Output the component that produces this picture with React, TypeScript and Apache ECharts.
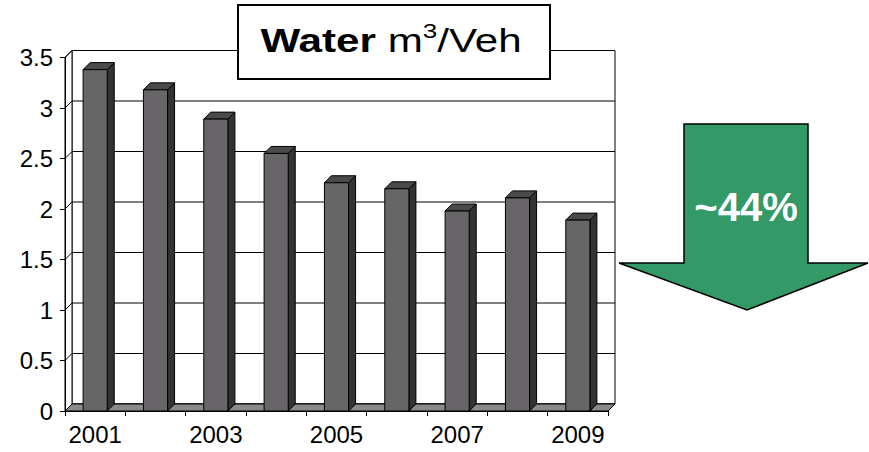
import React, { useEffect, useRef } from "react";
import * as echarts from "echarts";

const years = ["2001", "2002", "2003", "2004", "2005", "2006", "2007", "2008", "2009"];
const water = [3.38, 3.18, 2.89, 2.55, 2.26, 2.2, 1.98, 2.11, 1.89];
const yTicks = [0, 0.5, 1, 1.5, 2, 2.5, 3, 3.5];
const yMax = 3.5;
const titleBold = "Water";
const titleUnit = "m";
const titleSup = "3";
const titleRest = "/Veh";
const changeLabel = "~44%";

const DX = 7;
const DY = 7;
const FONT = "'Liberation Sans', Arial, sans-serif";

export default function App() {
  const ref = useRef<HTMLDivElement>(null);

  useEffect(() => {
    const chart = echarts.init(ref.current!, null, { renderer: "svg" });

    const renderFrame = (params: any, api: any) => {
      const children: any[] = [];
      const p0 = api.coord([0, 0]);
      const bw = api.size([1, 0])[0];
      const x0 = p0[0] - bw / 2;
      const x1 = x0 + bw * years.length;
      const yBot = p0[1];
      const yTop = api.coord([0, yMax])[1];
      children.push({
        type: "rect",
        shape: { x: x0 + DX, y: yTop - DY, width: x1 - x0, height: yBot - yTop },
        style: { fill: "#fff", stroke: "#000", lineWidth: 1 },
      });
      children.push({
        type: "polygon",
        shape: { points: [[x0, yBot], [x0, yTop], [x0 + DX, yTop - DY], [x0 + DX, yBot - DY]] },
        style: { fill: "#fff", stroke: "#000", lineWidth: 1 },
      });
      yTicks.forEach((v) => {
        const y = api.coord([0, v])[1];
        children.push({
          type: "line",
          shape: { x1: x0 + DX, y1: y - DY, x2: x1 + DX, y2: y - DY },
          style: { stroke: "#000", lineWidth: 1 },
        });
        children.push({
          type: "line",
          shape: { x1: x0, y1: y, x2: x0 + DX, y2: y - DY },
          style: { stroke: "#000", lineWidth: 1 },
        });
      });
      children.push({
        type: "polygon",
        shape: { points: [[x0, yBot], [x1, yBot], [x1 + DX, yBot - DY], [x0 + DX, yBot - DY]] },
        style: { fill: "#8a8a8a", stroke: "#000", lineWidth: 1 },
      });
      return { type: "group", children };
    };

    const renderBar = (params: any, api: any) => {
      const idx = api.value(0);
      const val = api.value(1);
      const c = api.coord([idx, val]);
      const b = api.coord([idx, 0]);
      const bw = api.size([1, 0])[0];
      const w = bw * 0.4;
      const l = c[0] - w / 2;
      const r = c[0] + w / 2;
      const st = { stroke: "#000", lineWidth: 1 };
      return {
        type: "group",
        children: [
          {
            type: "polygon",
            shape: { points: [[r, c[1]], [r + DX, c[1] - DY], [r + DX, b[1] - DY], [r, b[1]]] },
            style: { fill: "#333333", ...st },
          },
          {
            type: "polygon",
            shape: { points: [[l, c[1]], [r, c[1]], [r + DX, c[1] - DY], [l + DX, c[1] - DY]] },
            style: { fill: "#4a4a4a", ...st },
          },
          {
            type: "rect",
            shape: { x: l, y: c[1], width: w, height: b[1] - c[1] },
            style: { fill: "#676567", ...st },
          },
        ],
      };
    };

    const option: any = {
      animation: false,
      grid: { left: 65, right: 261, top: 57.5, bottom: 41 },
      xAxis: {
        type: "category",
        data: years,
        axisLine: { show: true, lineStyle: { color: "#000", width: 1 } },
        axisTick: { show: true, interval: 0, length: 5, lineStyle: { color: "#000" } },
        axisLabel: { interval: 1, color: "#000", fontSize: 24, fontFamily: FONT, margin: 11 },
        splitLine: { show: false },
        z: 5,
      },
      yAxis: {
        type: "value",
        min: 0,
        max: yMax,
        interval: 0.5,
        axisLine: { show: true, lineStyle: { color: "#000", width: 1 } },
        axisTick: { show: true, length: 5, lineStyle: { color: "#000" } },
        axisLabel: { color: "#000", fontSize: 24, fontFamily: FONT, margin: 12 },
        splitLine: { show: false },
        z: 5,
      },
      series: [
        { type: "custom", data: [[0, 0]], renderItem: renderFrame, z: 1, silent: true },
        {
          type: "custom",
          data: water.map((v, i) => [i, v]),
          renderItem: renderBar,
          z: 2,
        },
      ],
      graphic: [
        {
          type: "rect",
          z: 100,
          shape: { x: 238, y: 5, width: 312, height: 74 },
          style: { fill: "#fff", stroke: "#000", lineWidth: 2 },
        },
        {
          type: "text",
          z: 101,
          x: 391,
          y: 40,
          scaleX: 1.24,
          style: {
            text: `{b|${titleBold}}{n| ${titleUnit}}{s|${titleSup}}{n|${titleRest}}`,
            align: "center",
            verticalAlign: "middle",
            rich: {
              b: { fontSize: 34, fontWeight: "bold", fontFamily: FONT, fill: "#000", lineHeight: 40 },
              n: { fontSize: 34, fontFamily: FONT, fill: "#000", lineHeight: 40 },
              s: { fontSize: 21, fontFamily: FONT, fill: "#000", lineHeight: 40, verticalAlign: "top" },
            },
          },
        },
        {
          type: "polygon",
          z: 100,
          shape: {
            points: [
              [684, 124],
              [808, 124],
              [808, 263],
              [868, 263],
              [747, 310],
              [619, 263],
              [684, 263],
            ],
          },
          style: { fill: "#339966", stroke: "#000", lineWidth: 1.5 },
        },
        {
          type: "text",
          z: 101,
          x: 746,
          y: 207,
          style: {
            text: changeLabel,
            align: "center",
            verticalAlign: "middle",
            fontSize: 40,
            fontWeight: "bold",
            fontFamily: FONT,
            fill: "#fff",
          },
        },
      ],
    };

    chart.setOption(option);
    return () => chart.dispose();
  }, []);

  return (
    <div
      ref={ref}
      style={{ position: "absolute", left: 0, top: 0, width: 869, height: 452, background: "#fff" }}
    />
  );
}
